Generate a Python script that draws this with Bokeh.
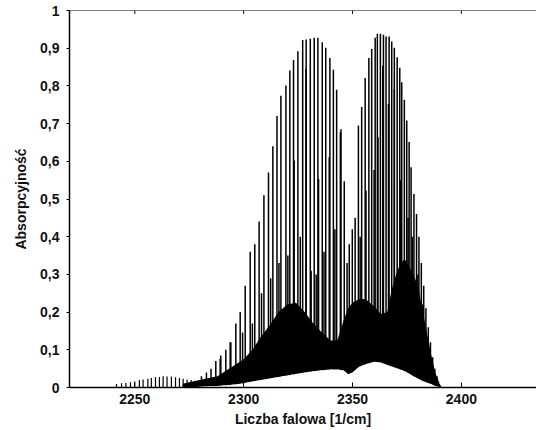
from bokeh.plotting import figure
from bokeh.models import FixedTicker, Range1d, Span
from bokeh.embed import file_html
from bokeh.resources import INLINE

# ---- data ----
# strong lines (P and R branches), wavenumber [1/cm] and absorbance
main_x = [2280.6, 2282.9, 2285.0, 2287.2, 2289.5, 2291.8, 2294.1, 2296.4, 2298.4, 2300.7,
          2303.0, 2305.1, 2307.1, 2309.3, 2311.4, 2313.4, 2315.3, 2317.1, 2319.4, 2321.2,
          2322.9, 2324.9, 2327.1, 2328.7, 2330.6, 2332.4, 2334.1, 2336.1, 2337.7, 2339.6,
          2341.2, 2342.7, 2344.7, 2346.2,
          2352.7, 2354.2, 2355.8, 2357.5, 2358.8, 2360.4, 2361.4, 2362.8, 2364.2, 2365.4,
          2366.8, 2368.0, 2369.2, 2370.5, 2371.7, 2372.6, 2373.8, 2374.9, 2376.0, 2376.9,
          2378.2, 2379.4, 2380.5, 2381.6, 2382.7, 2383.7, 2384.8, 2385.8, 2386.8, 2387.8,
          2388.8]
main_y = [0.03, 0.04, 0.05, 0.07, 0.085, 0.10, 0.12, 0.17, 0.20, 0.27,
          0.36, 0.38, 0.44, 0.51, 0.57, 0.64, 0.72, 0.774, 0.801, 0.841,
          0.869, 0.892, 0.922, 0.923, 0.925, 0.928, 0.928, 0.916, 0.901, 0.874,
          0.843, 0.790, 0.685, 0.547,
          0.695, 0.744, 0.821, 0.874, 0.898, 0.928, 0.938, 0.938, 0.936, 0.931,
          0.931, 0.918, 0.901, 0.876, 0.848, 0.810, 0.763, 0.708, 0.651, 0.584,
          0.513, 0.46, 0.40, 0.33, 0.27, 0.21, 0.16, 0.12, 0.08, 0.05,
          0.03]

# medium lines (hot bands / isotopologues)
sec_x = [2289.2, 2293.8, 2299.5, 2304.0, 2308.2, 2312.4, 2316.2, 2320.3, 2323.2, 2326.0,
         2328.6, 2331.0, 2333.3, 2334.4, 2336.9, 2339.3, 2341.9, 2344.4, 2347.5, 2348.5,
         2349.9, 2351.2, 2353.5, 2356.2, 2359.9, 2361.7, 2363.9, 2366.5, 2369.2, 2372.0,
         2375.5, 2377.5, 2380.0, 2382.2]
sec_y = [0.076, 0.12, 0.146, 0.17, 0.25, 0.29, 0.33, 0.35, 0.602, 0.40,
         0.845, 0.31, 0.30, 0.553, 0.36, 0.611, 0.42, 0.677, 0.33, 0.38,
         0.42, 0.45, 0.40, 0.522, 0.577, 0.664, 0.854, 0.752, 0.792, 0.55,
         0.45, 0.40, 0.30, 0.22]

# weak lines on the low-wavenumber side
weak_x = [2241.6, 2243.9, 2245.9, 2248.0, 2250.0, 2252.1, 2253.8, 2256.0, 2257.6, 2259.5,
          2261.3, 2263.0, 2264.8, 2266.8, 2268.7, 2270.5, 2272.2, 2274.0, 2275.9, 2277.6,
          2279.3]
weak_y = [0.009, 0.011, 0.012, 0.014, 0.016, 0.020, 0.021, 0.023, 0.025, 0.027,
          0.028, 0.030, 0.029, 0.029, 0.027, 0.025, 0.023, 0.021, 0.020, 0.018,
          0.020]

# dense band of overlapping lines: lower edge (minima) and upper edge
band_x = [2272, 2276, 2280, 2284, 2288, 2292, 2296, 2300, 2304, 2308,
          2312, 2316, 2320, 2324, 2328, 2332, 2336, 2340, 2343, 2346,
          2348, 2350, 2353, 2356, 2360, 2363, 2366, 2368, 2370, 2372,
          2374, 2376, 2378, 2380, 2382, 2384, 2386, 2388, 2390, 2391]
band_lo = [0.0, 0.0, 0.002, 0.003, 0.004, 0.006, 0.008, 0.011, 0.016, 0.020,
           0.024, 0.028, 0.032, 0.036, 0.040, 0.043, 0.046, 0.048, 0.048, 0.045,
           0.035, 0.040, 0.055, 0.062, 0.068, 0.066, 0.060, 0.056, 0.052, 0.048,
           0.043, 0.037, 0.030, 0.024, 0.018, 0.013, 0.009, 0.004, 0.001, 0.0]
band_hi = [0.010, 0.015, 0.020, 0.025, 0.030, 0.045, 0.060, 0.075, 0.100, 0.135,
           0.165, 0.200, 0.220, 0.225, 0.200, 0.170, 0.145, 0.125, 0.125, 0.180,
           0.210, 0.225, 0.235, 0.235, 0.215, 0.195, 0.200, 0.260, 0.300, 0.330,
           0.340, 0.320, 0.300, 0.270, 0.210, 0.150, 0.090, 0.040, 0.010, 0.0]

x_ticks = [2250, 2300, 2350, 2400]
y_ticks = [0, 0.1, 0.2, 0.3, 0.4, 0.5, 0.6, 0.7, 0.8, 0.9, 1]
y_labels = ["0", "0,1", "0,2", "0,3", "0,4", "0,5", "0,6", "0,7", "0,8", "0,9", "1"]

FONT = "Liberation Sans"

p = figure(width=536, height=430, x_range=Range1d(2220, 2434.5), y_range=Range1d(0, 1),
           output_backend="svg", toolbar_location=None,
           min_border_left=69, min_border_right=0, min_border_top=10, min_border_bottom=43)
p.outline_line_color = None
p.xgrid.visible = False
p.ygrid.visible = False
p.background_fill_color = "white"
p.border_fill_color = "white"

LW = 1.5
p.segment(x0=weak_x, y0=0, x1=weak_x, y1=weak_y, line_color="black", line_width=1.2)
p.segment(x0=sec_x, y0=0, x1=sec_x, y1=sec_y, line_color="black", line_width=LW)
p.segment(x0=main_x, y0=0, x1=main_x, y1=main_y, line_color="black", line_width=LW)
p.varea(x=band_x, y1=band_lo, y2=band_hi, fill_color="black")
p.varea(x=band_x, y1=0, y2=band_lo, fill_color="white")

# top frame line with small inward ticks
p.add_layout(Span(location=1, dimension="width", line_color="black", line_width=1))
p.segment(x0=x_ticks, y0=1, x1=x_ticks, y1=0.991, line_color="black", line_width=1)

xa = p.xaxis[0]
xa.ticker = FixedTicker(ticks=x_ticks)
xa.axis_label = "Liczba falowa [1/cm]"
xa.major_tick_in = 5
xa.major_tick_out = 0
xa.minor_tick_line_color = None
xa.axis_line_width = 1.5
xa.major_label_standoff = 6
xa.axis_label_standoff = 4

ya = p.yaxis[0]
ya.ticker = FixedTicker(ticks=y_ticks)
ya.major_label_overrides = {t: l for t, l in zip(y_ticks, y_labels)}
ya.axis_label = "Absorpcyjność"
ya.major_tick_in = 0
ya.major_tick_out = 3
ya.minor_tick_line_color = None
ya.axis_line_width = 1.5
ya.major_label_standoff = 7
ya.axis_label_standoff = 8

for ax in (xa, ya):
    ax.major_label_text_font = FONT
    ax.major_label_text_font_style = "bold"
    ax.major_label_text_font_size = "14px"
    ax.major_label_text_color = "#111111"
    ax.axis_label_text_font = FONT
    ax.axis_label_text_font_style = "bold"
    ax.axis_label_text_font_size = "14px"
    ax.axis_label_text_color = "#111111"
    ax.axis_line_color = "black"
    ax.major_tick_line_color = "black"

open("out.html", "w").write(file_html(p, INLINE))
